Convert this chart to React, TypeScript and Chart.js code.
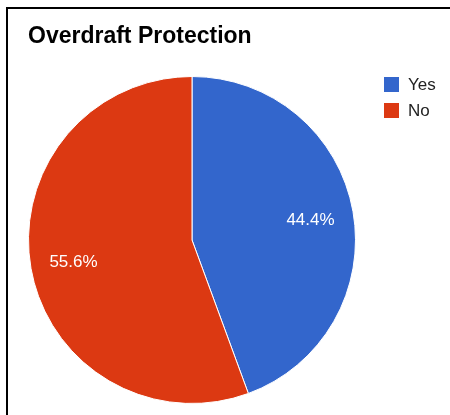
import React, { useEffect, useRef } from "react";
import { Chart, registerables } from "chart.js";

Chart.register(...registerables);

const TITLE = "Overdraft Protection";
const categories = ["Yes", "No"];
const values = [44.4, 55.6];
const colors = ["#3366CC", "#DC3912"];

const FONT = "'Liberation Sans', Arial, Helvetica, sans-serif";

const sliceLabels = {
  id: "sliceLabels",
  afterDatasetsDraw(chart: any) {
    const ctx = chart.ctx;
    const meta = chart.getDatasetMeta(0);
    const data = chart.data.datasets[0].data as number[];
    ctx.save();
    ctx.fillStyle = "#ffffff";
    ctx.font = `17px ${FONT}`;
    ctx.textAlign = "center";
    ctx.textBaseline = "middle";
    meta.data.forEach((arc: any, i: number) => {
      const p = arc.getProps(["x", "y", "startAngle", "endAngle", "outerRadius"], true);
      const mid = (p.startAngle + p.endAngle) / 2;
      const r = p.outerRadius * 0.736;
      const x = p.x + Math.cos(mid) * r;
      const y = p.y + Math.sin(mid) * r + 1.5;
      ctx.fillText(`${data[i].toFixed(1)}%`, x, y);
    });
    ctx.restore();
  },
};

export default function App() {
  const ref = useRef<HTMLCanvasElement | null>(null);

  useEffect(() => {
    if (!ref.current) return;
    const chart = new Chart(ref.current, {
      type: "pie",
      data: {
        labels: categories,
        datasets: [
          {
            data: values,
            backgroundColor: colors,
            borderColor: "#ffffff",
            borderWidth: 1,
          },
        ],
      },
      options: {
        responsive: false,
        animation: false,
        devicePixelRatio: 1,
        layout: { padding: { left: 28, right: 94, top: 22.7, bottom: 11 } },
        plugins: {
          legend: { display: false },
          tooltip: { enabled: false },
          title: {
            display: true,
            text: TITLE,
            align: "start",
            color: "#000000",
            font: { family: FONT, size: 23, weight: "bold", lineHeight: 1.2 },
            padding: { top: 0, bottom: 25.7 },
          },
        },
      },
      plugins: [sliceLabels],
    });
    return () => chart.destroy();
  }, []);

  return (
    <div
      style={{
        position: "fixed",
        left: 0,
        top: 0,
        width: 450,
        height: 415,
        background: "#ffffff",
        overflow: "hidden",
      }}
    >
      <canvas
        ref={ref}
        width={450}
        height={415}
        style={{ position: "absolute", left: 0, top: 0, width: 450, height: 415 }}
      />
      <div
        style={{
          position: "absolute",
          left: 6,
          top: 7,
          width: 444,
          height: 408,
          borderTop: "2px solid #000",
          borderLeft: "2px solid #000",
          boxSizing: "border-box",
          pointerEvents: "none",
        }}
      />
      <div style={{ position: "absolute", left: 384, top: 77 }}>
        {categories.map((c, i) => (
          <div
            key={c}
            style={{
              display: "flex",
              alignItems: "center",
              height: 15,
              marginBottom: 11,
            }}
          >
            <div style={{ width: 15, height: 15, background: colors[i] }} />
            <span
              style={{
                marginLeft: 9,
                fontFamily: FONT,
                fontSize: 17,
                lineHeight: "15px",
                color: "#222222",
                whiteSpace: "nowrap",
              }}
            >
              {c}
            </span>
          </div>
        ))}
      </div>
    </div>
  );
}
